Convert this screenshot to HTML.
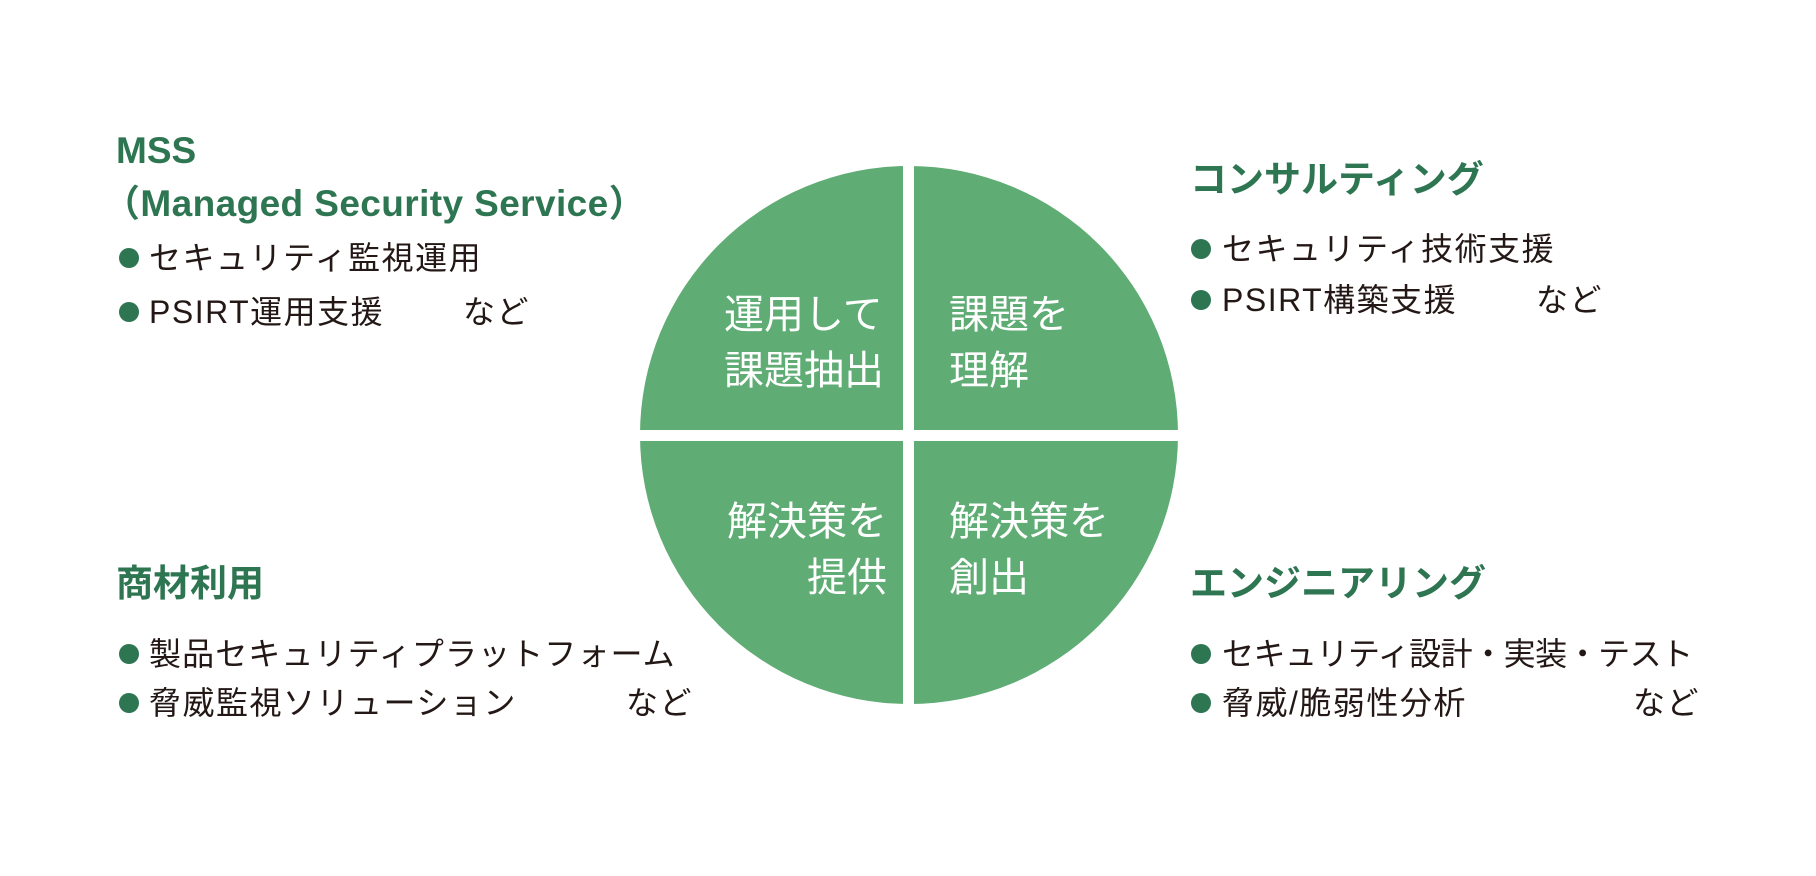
<!DOCTYPE html>
<html><head><meta charset="utf-8"><style>
body{margin:0;width:1816px;height:876px;background:#fff;position:relative;overflow:hidden;font-family:"Liberation Sans","Noto Sans CJK JP",sans-serif;}
.t{position:absolute;white-space:nowrap;height:44px;line-height:44px;}
.h{color:#2e7552;font-weight:bold;font-size:37px;}
.b{color:#231815;font-size:32px;letter-spacing:1.5px;}
.d{position:absolute;width:20px;height:20px;border-radius:50%;background:#2e7552;}
.q{position:absolute;color:#fff;font-size:40px;line-height:56px;white-space:nowrap;}
</style></head><body>
<svg width="1816" height="876" style="position:absolute;left:0;top:0">
<defs><clipPath id="c"><ellipse cx="909" cy="435" rx="269" ry="269"/></clipPath></defs>
<g clip-path="url(#c)" fill="#5fac74">
<rect x="600" y="140" width="303" height="290"/>
<rect x="914" y="140" width="303" height="290"/>
<rect x="600" y="441" width="303" height="290"/>
<rect x="914" y="441" width="303" height="290"/>
</g></svg>
<div class="q" style="left:724px;top:287px">運用して<br>課題抽出</div>
<div class="q" style="left:949px;top:287px">課題を<br>理解</div>
<div class="q" style="left:687px;top:494px;width:200px;text-align:right">解決策を<br>提供</div>
<div class="q" style="left:949px;top:494px">解決策を<br>創出</div>

<div class="t h" style="left:116px;top:129px">MSS</div>
<div class="t h" style="left:103px;top:182px;letter-spacing:0.4px">（Managed Security Service）</div>
<div class="d" style="left:119px;top:248px"></div><div class="t b" style="left:149px;top:236px">セキュリティ監視運用</div>
<div class="d" style="left:119px;top:302px"></div><div class="t b" style="left:149px;top:290px">PSIRT運用支援</div><div class="t b" style="left:463px;top:290px">など</div>

<div class="t h" style="left:1190px;top:158px">コンサルティング</div>
<div class="d" style="left:1191px;top:239px"></div><div class="t b" style="left:1222px;top:227px">セキュリティ技術支援</div>
<div class="d" style="left:1191px;top:290px"></div><div class="t b" style="left:1222px;top:278px">PSIRT構築支援</div><div class="t b" style="left:1536px;top:278px">など</div>

<div class="t h" style="left:116px;top:562px">商材利用</div>
<div class="d" style="left:119px;top:644px"></div><div class="t b" style="left:149px;top:632px;letter-spacing:1.1px">製品セキュリティプラットフォーム</div>
<div class="d" style="left:119px;top:693px"></div><div class="t b" style="left:149px;top:681px">脅威監視ソリューション</div><div class="t b" style="left:626px;top:681px">など</div>

<div class="t h" style="left:1190px;top:562px">エンジニアリング</div>
<div class="d" style="left:1191px;top:644px"></div><div class="t b" style="left:1222px;top:632px;letter-spacing:-0.5px">セキュリティ設計・実装・テスト</div>
<div class="d" style="left:1191px;top:693px"></div><div class="t b" style="left:1222px;top:681px">脅威/脆弱性分析</div><div class="t b" style="left:1633px;top:681px">など</div>
</body></html>
